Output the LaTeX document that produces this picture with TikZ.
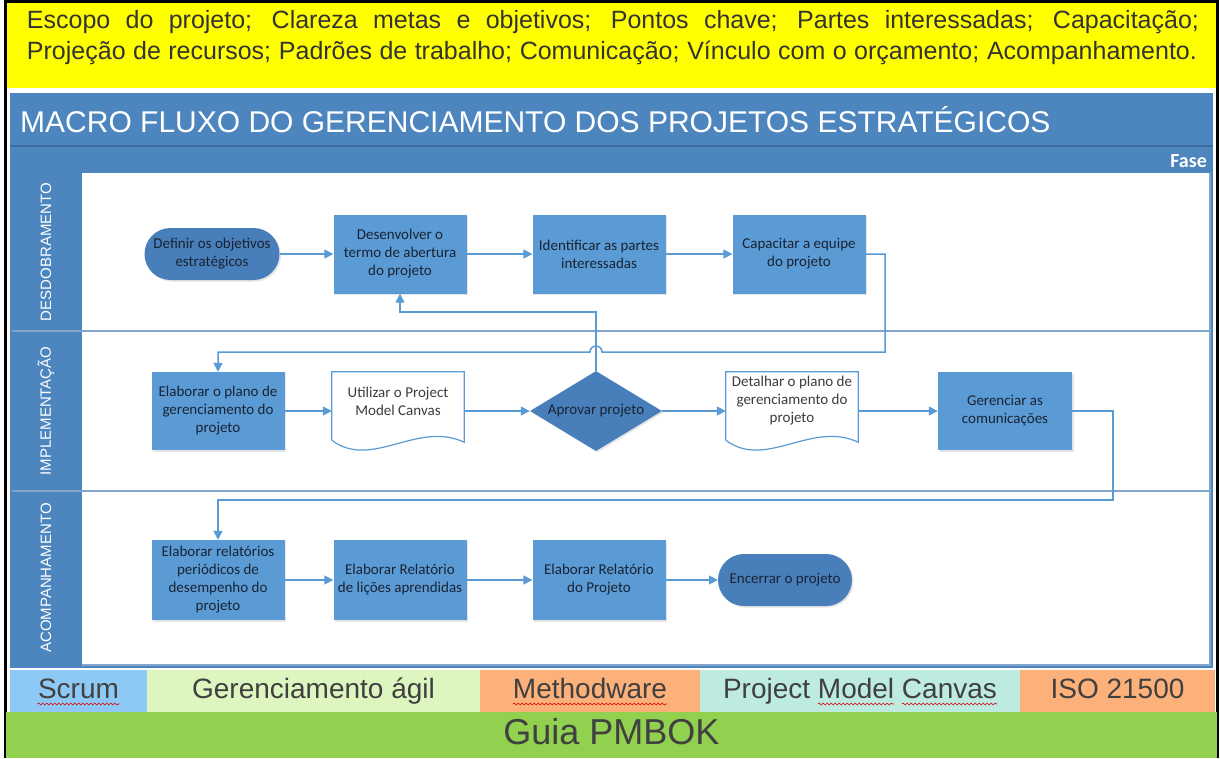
\documentclass[tikz,border=0pt]{standalone}
\usepackage{fontspec}
\setmainfont{Liberation Sans}
\newfontfamily\calibri{Carlito}
\usepackage{tikz}
\usetikzlibrary{arrows.meta}
\usetikzlibrary{shapes.geometric}
\usetikzlibrary{calc}
\usetikzlibrary{shadows}
\usetikzlibrary{decorations.pathmorphing}
\definecolor{bannerYellow}{RGB}{255,255,0}
\definecolor{bannerText}{RGB}{51,51,51}
\definecolor{headBlue}{RGB}{77,134,191}
\definecolor{headLine}{RGB}{60,108,160}
\definecolor{laneLine}{RGB}{130,165,205}
\definecolor{taskBlue}{RGB}{91,155,213}
\definecolor{termBlue}{RGB}{72,127,187}
\definecolor{flowBlue}{RGB}{91,155,213}
\definecolor{nodeText}{RGB}{25,35,50}
\definecolor{docText}{RGB}{60,60,60}
\definecolor{barText}{RGB}{64,64,64}
\definecolor{scrumBlue}{RGB}{142,201,245}
\definecolor{agilGreen}{RGB}{221,245,191}
\definecolor{toolOrange}{RGB}{252,176,122}
\definecolor{canvasMint}{RGB}{190,235,224}
\definecolor{pmbokGreen}{RGB}{146,208,80}

\begin{document}
\begin{tikzpicture}[x=1pt,y=-1pt,
    every node/.style={inner sep=0pt},
    task/.style={rectangle, fill=taskBlue, minimum width=133pt, minimum height=79pt, align=center,
        text=nodeText, font=\calibri\fontsize{15}{18}\selectfont,
        drop shadow={opacity=0.2, shadow xshift=1.5pt, shadow yshift=-1.5pt}},
    terminal/.style={task, fill=termBlue, rounded corners=26pt, minimum width=135pt, minimum height=52pt},
    decision/.style={task, diamond, fill=termBlue, aspect=1.65, minimum width=132pt, minimum height=80pt},
    docbox/.style={rectangle, minimum width=132pt, minimum height=58pt, align=center,
        text=docText, font=\calibri\fontsize{15}{18}\selectfont},
    docline/.style={draw=flowBlue, line width=1.2pt},
    flow/.style={draw=flowBlue, line width=1.5pt, -{Triangle[length=9pt,width=9pt]}},
    lanelabel/.style={rotate=90, text=white, font=\fontsize{15}{15}\selectfont},
    bar/.style={minimum height=42pt, text height=20pt, text depth=6pt, text=barText, font=\fontsize{28}{28}\selectfont},
    squiggle/.style={draw=red!85!black, line width=0.6pt, decorate,
        decoration={snake, amplitude=1pt, segment length=4pt}}
]
    \useasboundingbox (0,0) rectangle (1220,758);
    \fill[white] (0,0) rectangle (1220,758);
    \fill[bannerYellow] (6,3) rectangle (1216,88);
    \fill[headBlue] (10,93) rectangle (1213,668);
    \fill[white] (82,173) rectangle (1210,665);
    \draw[headLine, line width=1.5pt] (10,146) -- (1213,146);
    \draw[laneLine, line width=2pt] (12,331) -- (1210,331);
    \draw[laneLine, line width=2pt] (12,491) -- (1210,491);
    \draw[laneLine, line width=1.5pt] (1210,173) -- (1210,665) -- (82,665);
    \draw[black, line width=3pt] (5,758) -- (5,1.5) -- (1217,1.5) -- (1217,758);

    \node[text=bannerText, align=left, font=\fontsize{25}{31}\selectfont] (banner) at (613,38)
        {\makebox[1172pt][s]{Escopo do projeto; Clareza metas e objetivos; Pontos chave; Partes interessadas; Capacitação;}\\
         \makebox[1170pt][s]{Projeção de recursos; Padrões de trabalho; Comunicação; Vínculo com o orçamento; Acompanhamento.}};
    \node[anchor=west, text=white, font=\fontsize{30}{30}\selectfont] (title) at (20,120)
        {MACRO FLUXO DO GERENCIAMENTO DOS PROJETOS ESTRATÉGICOS};
    \node[anchor=east, text=white, font=\calibri\bfseries\fontsize{20}{20}\selectfont] (fase) at (1207,161) {Fase};

    \node[lanelabel] (lane1) at (46,252) {DESDOBRAMENTO};
    \node[lanelabel] (lane2) at (46,411) {IMPLEMENTAÇÃO};
    \node[lanelabel] (lane3) at (46,578) {ACOMPANHAMENTO};

    \node[terminal] (defin) at (212,254) {Definir os objetivos\\estratégicos};
    \node[task] (desenv) at (400,254) {Desenvolver o\\termo de abertura\\do projeto};
    \node[task] (ident) at (599,254) {Identificar as partes\\interessadas};
    \node[task] (capac) at (799,254) {Capacitar a equipe\\do projeto};

    \node[task, minimum height=78pt] (elab) at (218,411) {Elaborar o plano de\\gerenciamento do\\projeto};
    \node[docbox] (canvas) at (398,401) {Utilizar o Project\\Model Canvas};
    \node[decision] (aprov) at (596,411) {Aprovar projeto};
    \node[docbox] (detal) at (792,401) {Detalhar o plano de\\gerenciamento do\\projeto};
    \node[task, minimum width=134pt, minimum height=78pt] (gerenc) at (1005,411) {Gerenciar as\\comunicações};

    \node[task, minimum height=80pt] (relat) at (218,580) {Elaborar relatórios\\periódicos de\\desempenho do\\projeto};
    \node[task, minimum height=80pt] (licoes) at (400,580) {Elaborar Relatório\\de lições aprendidas};
    \node[task, minimum height=80pt] (relproj) at (599,580) {Elaborar Relatório\\do Projeto};
    \node[terminal, minimum width=134pt] (encer) at (785,580) {Encerrar o projeto};

    \foreach \d in {canvas,detal}
        \draw[docline] ($(\d.south west)+(0,10)$) -- (\d.north west) -- (\d.north east) -- ($(\d.south east)+(0,12)$)
            .. controls ($(\d.south east)+(-47,-10)$) and ($(\d.south west)+(40,40)$) .. ($(\d.south west)+(0,10)$);

    \draw[flow] (defin.east) -- (desenv.west);
    \draw[flow] (desenv.east) -- (ident.west);
    \draw[flow] (ident.east) -- (capac.west);
    \draw[flow] (capac.east) -| (885,352) -- (602,352) arc[start angle=0, end angle=180, radius=6pt] -- (218,352) -- (elab.north);
    \draw[flow] (aprov.north) -- (596,312) -| (desenv.south);

    \draw[flow] (elab.east) -- (elab.east -| canvas.west);
    \draw[flow] (canvas.east |- aprov.west) -- (aprov.west);
    \draw[flow] (aprov.east) -- (aprov.east -| detal.west);
    \draw[flow] (detal.east |- gerenc.west) -- (gerenc.west);
    \draw[flow] (gerenc.east) -| (1113,500) -| (relat.north);

    \draw[flow] (relat.east) -- (licoes.west);
    \draw[flow] (licoes.east) -- (relproj.west);
    \draw[flow] (relproj.east) -- (encer.west);

    \node[bar, fill=scrumBlue, minimum width=137pt] (scrum) at (78.5,691) {Scrum};
    \node[bar, fill=agilGreen, minimum width=333pt] (agil) at (313.5,691) {Gerenciamento ágil};
    \node[bar, fill=toolOrange, minimum width=220pt] (method) at (590,691) {Methodware};
    \node[bar, fill=canvasMint, minimum width=320pt] (pmc) at (860,691) {Project Model Canvas};
    \node[bar, fill=toolOrange, minimum width=195pt] (iso) at (1117.5,691) {ISO 21500};
    \node[bar, fill=pmbokGreen, minimum width=1211pt, minimum height=46pt, text height=26pt, text depth=8pt,
        font=\fontsize{36}{36}\selectfont] (pmbok) at (611.5,735) {Guia PMBOK};

    \draw[squiggle] ($(scrum.center)+(-41,13)$) -- ($(scrum.center)+(41,13)$);
    \draw[squiggle] ($(method.center)+(-77,13)$) -- ($(method.center)+(77,13)$);
    \draw[squiggle] ($(pmc.center)+(-42,13)$) -- ($(pmc.center)+(34,13)$);
    \draw[squiggle] ($(pmc.center)+(42,13)$) -- ($(pmc.center)+(137,13)$);
\end{tikzpicture}
\end{document}
